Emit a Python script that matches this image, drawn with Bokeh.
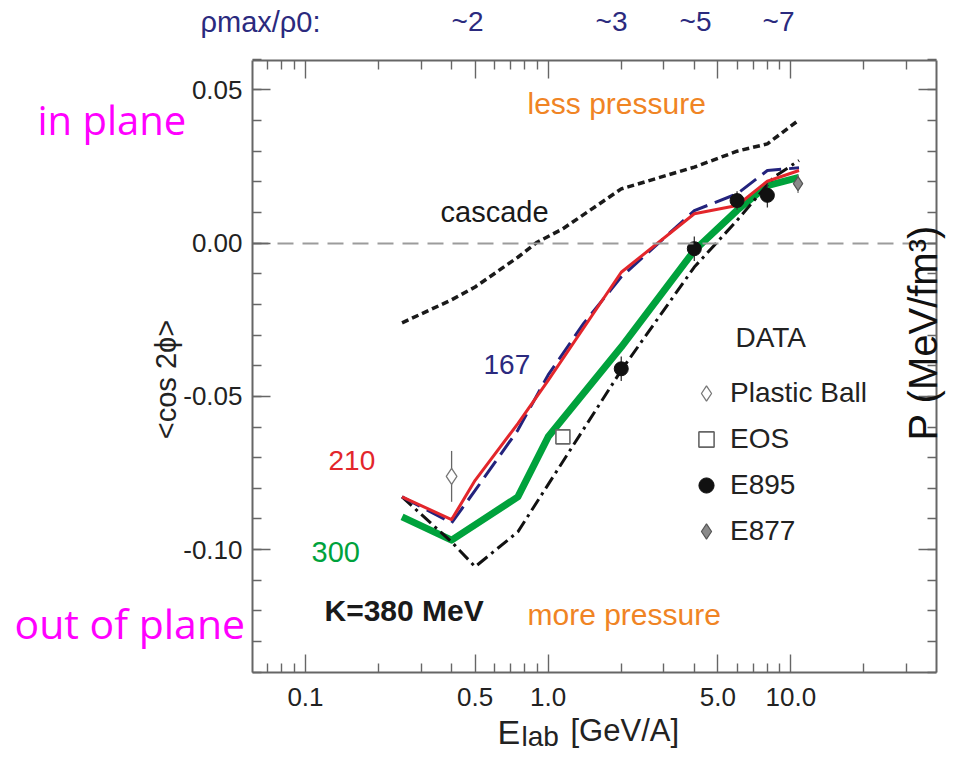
import math
from bokeh.plotting import figure
from bokeh.models import (Range1d, LogAxis, LinearAxis, FixedTicker, PrintfTickFormatter,
                          CustomJSTickFormatter, Label, Legend, LegendItem)
from bokeh.embed import file_html
from bokeh.resources import INLINE

# ---------------- data ----------------
# cascade calculation (black dotted)
e_cascade = [0.25, 0.4, 0.5, 0.75, 0.9, 1.15, 2.0, 4.0, 6.0, 8.0, 10.8]
cos_cascade = [-0.026, -0.0185, -0.0143, -0.0046, 0.0003, 0.0047, 0.0177, 0.0248, 0.0300, 0.0324, 0.0402]

# K = 167 MeV (blue long dashes)
e_k167 = [0.25, 0.4, 0.5, 0.75, 1.0, 1.4, 2.0, 4.0, 6.0, 8.0, 10.8]
cos_k167 = [-0.0828, -0.0913, -0.0807, -0.0610, -0.0430, -0.0262, -0.0110, 0.0106, 0.0161, 0.0237, 0.0246]

# K = 210 MeV (red)
e_k210 = [0.25, 0.4, 0.5, 0.75, 1.0, 2.0, 4.0, 6.0, 8.0, 10.8]
cos_k210 = [-0.0828, -0.0902, -0.0774, -0.0589, -0.0448, -0.0095, 0.0096, 0.0123, 0.0202, 0.0237]

# K = 300 MeV (green, thick)
e_k300 = [0.25, 0.4, 0.75, 1.0, 2.0, 4.0, 6.0, 8.0, 10.8]
cos_k300 = [-0.0893, -0.0969, -0.0828, -0.0632, -0.0339, -0.0024, 0.0107, 0.0188, 0.0215]

# K = 380 MeV (black dash-dot)
e_k380 = [0.25, 0.4, 0.5, 0.75, 2.0, 4.0, 6.0, 8.5, 10.8]
cos_k380 = [-0.0828, -0.0975, -0.1056, -0.0942, -0.0415, -0.0078, 0.0074, 0.0215, 0.0270]

# measured data
e_pb, cos_pb, err_pb = [0.4], [-0.0761], [0.0083]
e_eos, cos_eos = [1.15], [-0.0632]
e_e895 = [2.0, 4.0, 6.0, 8.0]
cos_e895 = [-0.0410, -0.0018, 0.0139, 0.0156]
err_e895 = [0.004, 0.004, 0.003, 0.004]
e_e877, cos_e877, err_e877 = [10.7], [0.0194], [0.003]

# axes
x_major = [0.1, 0.5, 1.0, 5.0, 10.0]
x_minor = [0.07, 0.08, 0.09, 0.2, 0.3, 0.4, 0.6, 0.7, 0.8, 0.9,
           2.0, 3.0, 4.0, 6.0, 7.0, 8.0, 9.0, 20.0, 30.0]
y_major = [-0.10, -0.05, 0.0, 0.05]
y_minor = [round(-0.14 + 0.01 * i, 2) for i in range(21)]

rho_labels = ["~2", "~3", "~5", "~7"]
legend_labels = ["Plastic Ball", "EOS", "E895", "E877"]

# ---------------- geometry ----------------
W, H = 948, 754
X0, X1 = 0.0605, 39.8          # x limits of the plot box
Y0, Y1 = -0.1401, 0.0596       # y limits of the plot box
BL, BR, BT, BB = 252, 936, 60, 672   # plot box edges in canvas pixels

LX_PX = (math.log10(X1) - math.log10(X0)) / (BR - BL)
Y_PX = (Y1 - Y0) / (BB - BT)
x_range = Range1d(10 ** (math.log10(X0) - BL * LX_PX), 10 ** (math.log10(X1) + (W - BR) * LX_PX))
y_range = Range1d(Y0 - (H - BB) * Y_PX, Y1 + BT * Y_PX)


def px2x(px):
    return 10 ** (math.log10(X0) + (px - BL) * LX_PX)


def py2y(py):
    return Y1 - (py - BT) * Y_PX


p = figure(width=W, height=H, x_axis_type="log", x_range=x_range, y_range=y_range,
           x_axis_location=None, y_axis_location=None,
           output_backend="svg", toolbar_location=None,
           min_border_left=0, min_border_right=0, min_border_top=0, min_border_bottom=0)
p.xgrid.visible = False
p.ygrid.visible = False
p.outline_line_color = None
p.background_fill_color = "white"
p.border_fill_color = "white"

FONT = "Liberation Sans"
AX = "#666666"
BLANK = CustomJSTickFormatter(code="return ''")


def style_axis(ax):
    ax.axis_line_color = AX
    ax.axis_line_width = 2
    ax.major_tick_in = 18
    ax.major_tick_out = 0
    ax.minor_tick_in = 9
    ax.minor_tick_out = 0
    ax.major_tick_line_color = AX
    ax.minor_tick_line_color = AX
    ax.major_tick_line_width = 1.4
    ax.minor_tick_line_width = 1.4
    ax.major_label_text_font = FONT
    ax.major_label_text_color = "#222222"
    ax.major_label_text_font_size = "26px"


xb = LogAxis(fixed_location=Y0, bounds=(X0, X1),
             ticker=FixedTicker(ticks=x_major, minor_ticks=x_minor),
             formatter=PrintfTickFormatter(format="%.1f"))
style_axis(xb)
xb.major_label_standoff = 15
p.add_layout(xb, "below")

xt = LogAxis(fixed_location=Y1, bounds=(X0, X1),
             ticker=FixedTicker(ticks=x_major, minor_ticks=x_minor), formatter=BLANK)
style_axis(xt)
p.add_layout(xt, "above")

yl = LinearAxis(fixed_location=X0, bounds=(Y0, Y1),
                ticker=FixedTicker(ticks=y_major, minor_ticks=y_minor),
                formatter=PrintfTickFormatter(format="%.2f"))
style_axis(yl)
yl.major_label_standoff = 10
p.add_layout(yl, "left")

yr = LinearAxis(fixed_location=X1, bounds=(Y0, Y1),
                ticker=FixedTicker(ticks=y_major, minor_ticks=y_minor), formatter=BLANK)
style_axis(yr)
p.add_layout(yr, "right")

# dashed zero line across the box
zero = LogAxis(fixed_location=0.0, bounds=(X0, X1),
               ticker=FixedTicker(ticks=[], minor_ticks=[]), formatter=BLANK)
zero.axis_line_color = "#9c9c9c"
zero.axis_line_width = 2
zero.axis_line_dash = "16 9"
zero.major_tick_in = 0
zero.major_tick_out = 0
zero.minor_tick_in = 0
zero.minor_tick_out = 0
p.add_layout(zero, "below")

# ---------------- curves ----------------
p.line(e_cascade, cos_cascade, line_color="#1a1a1a", line_width=3.5, line_dash="7 4")
p.line(e_k300, cos_k300, line_color="#00a23c", line_width=7, line_join="round")
p.line(e_k380, cos_k380, line_color="#111111", line_width=3, line_dash="13 5 3 5")
p.line(e_k167, cos_k167, line_color="#23237d", line_width=3, line_dash="20 8")
p.line(e_k210, cos_k210, line_color="#e3262b", line_width=3, line_join="round")

# ---------------- data points ----------------
p.segment(x0=e_pb, x1=e_pb, y0=[v - d for v, d in zip(cos_pb, err_pb)],
          y1=[v + d for v, d in zip(cos_pb, err_pb)], line_color="#666666", line_width=1.3)
p.segment(x0=e_e895, x1=e_e895, y0=[v - d for v, d in zip(cos_e895, err_e895)],
          y1=[v + d for v, d in zip(cos_e895, err_e895)], line_color="#333333", line_width=1.3)
p.segment(x0=e_e877, x1=e_e877, y0=[v - d for v, d in zip(cos_e877, err_e877)],
          y1=[v + d for v, d in zip(cos_e877, err_e877)], line_color="#777777", line_width=1.3)

r_pb = p.scatter(e_pb, cos_pb, marker="diamond", size=16, fill_color="white",
                 line_color="#777777", line_width=1.3)
r_eos = p.scatter(e_eos, cos_eos, marker="square", size=14, fill_color="white",
                  line_color="#666666", line_width=1.6)
r_e895 = p.scatter(e_e895, cos_e895, marker="circle", size=14, fill_color="#111111",
                   line_color="#111111")
r_e877 = p.scatter(e_e877, cos_e877, marker="diamond", size=14, fill_color="#8a8a8a",
                   line_color="#555555", line_width=1.2)

legend = Legend(items=[LegendItem(label=legend_labels[0], renderers=[r_pb]),
                       LegendItem(label=legend_labels[1], renderers=[r_eos]),
                       LegendItem(label=legend_labels[2], renderers=[r_e895]),
                       LegendItem(label=legend_labels[3], renderers=[r_e877])],
                location=(687, H - 550), orientation="vertical",
                glyph_width=38, glyph_height=38, label_standoff=5, spacing=8,
                padding=0, margin=0, border_line_color=None, background_fill_alpha=0,
                label_text_font=FONT, label_text_font_size="28px", label_text_color="#222222")
p.add_layout(legend)


# ---------------- texts ----------------
BASE_SHIFT = 0.4  # measured offset of the rendered alphabetic baseline, in em


def lab(text, px, py, size, color, font=FONT, align="left", angle=0.0, style="normal"):
    if angle == 0.0:
        py = py - BASE_SHIFT * size
    else:  # text rotated by +90 deg: its baseline is a vertical line at px
        px = px - BASE_SHIFT * size
    p.add_layout(Label(x=px2x(px), y=py2y(py), text=text, text_font=font,
                       text_font_size=f"{size}px", text_color=color, text_align=align,
                       text_baseline="alphabetic", angle=angle, text_font_style=style))


NAVY = "#2b2a7e"
ORANGE = "#f08424"
MAGENTA = "#ff00ff"

lab("DATA", 735, 348, 28, "#222222")
lab("less pressure", 527, 115, 30, ORANGE)
lab("more pressure", 527, 626, 30, ORANGE)
lab("cascade", 440, 223, 29, "#1a1a1a")
lab("167", 483, 375, 28, NAVY)
lab("210", 328, 471, 28, "#e3262b")
lab("300", 311, 563, 29, "#00a23c")
lab("K=380 MeV", 324, 622, 30, "#1a1a1a", style="bold")

lab("in plane", 37, 135, 40, MAGENTA, font="Open Sans")
lab("out of plane", 14, 639, 41, MAGENTA, font="Open Sans")

lab("\u03c1max/\u03c10:", 200, 33, 29, NAVY)
for t, cx in zip(rho_labels, [467, 611, 695, 778]):
    lab(t, cx, 32, 28, NAVY, align="center")

lab("<cos 2\u03d5>", 177, 379, 29, "#222222", align="center", angle=math.pi / 2)
lab("P (MeV/fm\u00b3)", 938, 440, 40, "#111111", angle=math.pi / 2)

lab("E", 497, 745, 34, "#222222")
lab("lab", 521, 747, 28, "#222222")
lab("[GeV/A]", 570, 742, 31, "#222222")

open("out.html", "w").write(file_html(p, INLINE))
